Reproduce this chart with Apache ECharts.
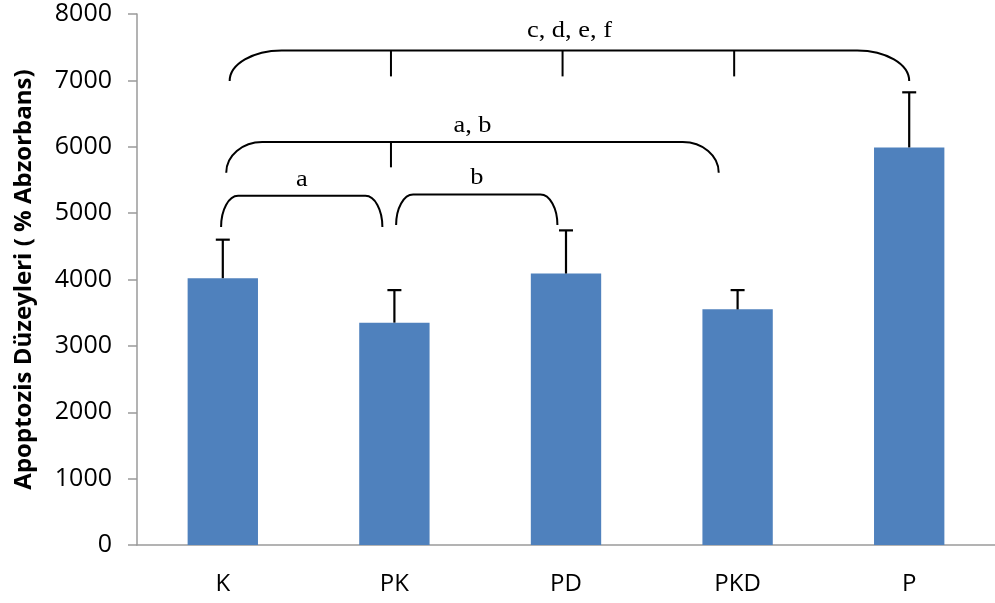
<!DOCTYPE html>
<html>
<head>
<meta charset="utf-8">
<script src="https://cdn.jsdelivr.net/npm/echarts@6/dist/echarts.min.js"></script>
<style>
  html, body { margin: 0; padding: 0; background: #fff; }
  #main { width: 995px; height: 603px; }
</style>
</head>
<body>
<div id="main"></div>
<script>
// veriler
var groups = ['K', 'PK', 'PD', 'PKD', 'P'];
var means = [4020, 3350, 4090, 3550, 5990];
var errTops = [4600, 3840, 4740, 3840, 6820];

// parantezler (x: kategori indeksi, y: deger)
var bracketLabels = ['c, d, e, f', 'a, b', 'a', 'b'];
var bracketStart = [0.04, 0.02, -0.01, 1.01];
var bracketEnd = [4.0, 2.89, 0.93, 1.95];
var bracketTop = [7450, 6070, 5260, 5280];
var bracketFoot = [6990, 5610, 4790, 4820];
var bracketTicks = [[0.98, 1.98, 2.98], [0.98], [], []];
var bracketTickFoot = [7060, 5690, 0, 0];
var bracketTextY = [7750, 6310, 5500, 5530];

// kose yaricaplari (px)
var cornerR = [52, 36, 17, 17];

var chart = echarts.init(document.getElementById('main'));

function xAt(api, pos, y) {
  var i = Math.round(pos);
  var band = api.size([1, 0])[0];
  return api.coord([i, y])[0] + (pos - i) * band;
}

var option = {
  animation: false,
  grid: { left: 137, right: 0, top: 14, bottom: 58 },
  xAxis: {
    type: 'category',
    data: groups,
    axisLine: { lineStyle: { color: '#9a9a9a', width: 1.5 } },
    axisTick: { length: 9, lineStyle: { color: '#9a9a9a', width: 1.5 } },
    axisLabel: { color: '#000', fontSize: 24, fontFamily: 'Open Sans', margin: 27 }
  },
  yAxis: {
    type: 'value',
    min: 0, max: 8000, interval: 1000,
    name: 'Apoptozis Düzeyleri ( % Abzorbans)',
    nameLocation: 'middle',
    nameGap: 101,
    nameTextStyle: { fontSize: 24, fontWeight: 'bold', color: '#000', fontFamily: 'Open Sans' },
    axisLine: { show: true, lineStyle: { color: '#9a9a9a', width: 1.5 } },
    axisTick: { show: true, length: 9, lineStyle: { color: '#9a9a9a', width: 1.5 } },
    axisLabel: {
      color: '#000', fontSize: 25, fontFamily: 'Open Sans', margin: 25,
      formatter: function (v) { return String(v); }
    },
    splitLine: { show: false }
  },
  series: [
    {
      type: 'bar',
      data: means,
      barWidth: '41%',
      itemStyle: { color: '#4F81BD' }
    },
    {
      // hata cubuklari
      type: 'custom',
      data: errTops.map(function (v, i) { return [i, v, means[i]]; }),
      renderItem: function (params, api) {
        var top = api.coord([api.value(0), api.value(1)]);
        var base = api.coord([api.value(0), api.value(2)]);
        return {
          type: 'group',
          children: [
            { type: 'line', shape: { x1: top[0], y1: base[1], x2: top[0], y2: top[1] }, style: { stroke: '#000', lineWidth: 2.2 } },
            { type: 'line', shape: { x1: top[0] - 7, y1: top[1], x2: top[0] + 7, y2: top[1] }, style: { stroke: '#000', lineWidth: 2.2 } }
          ]
        };
      },
      z: 5
    },
    {
      // anlamlilik parantezleri
      type: 'custom',
      data: bracketLabels.map(function (t, i) { return [i, bracketTop[i]]; }),
      renderItem: function (params, api) {
        var k = params.dataIndex;
        var x0 = xAt(api, bracketStart[k], 0);
        var x1 = xAt(api, bracketEnd[k], 0);
        var yT = api.coord([0, bracketTop[k]])[1];
        var yF = api.coord([0, bracketFoot[k]])[1];
        var r = cornerR[k];
        var h = yF - yT;
        var c = 0.552;
        var path = 'M' + x0 + ' ' + yF +
          ' C' + x0 + ' ' + (yF - c * h) + ' ' + (x0 + r - c * r) + ' ' + yT + ' ' + (x0 + r) + ' ' + yT +
          ' L' + (x1 - r) + ' ' + yT +
          ' C' + (x1 - r + c * r) + ' ' + yT + ' ' + x1 + ' ' + (yF - c * h) + ' ' + x1 + ' ' + yF;
        var kids = [
          { type: 'path', shape: { pathData: path }, style: { stroke: '#000', lineWidth: 2, fill: null } }
        ];
        bracketTicks[k].forEach(function (p) {
          var tx = xAt(api, p, 0);
          var yb = api.coord([0, bracketTickFoot[k]])[1];
          kids.push({ type: 'line', shape: { x1: tx, y1: yT, x2: tx, y2: yb }, style: { stroke: '#000', lineWidth: 2 } });
        });
        kids.push({
          type: 'text',
          x: (x0 + x1) / 2,
          y: api.coord([0, bracketTextY[k]])[1],
          scaleX: 1.1,
          style: {
            text: bracketLabels[k],
            x: 0,
            y: 0,
            align: 'center',
            verticalAlign: 'middle',
            font: '24px "Liberation Serif"',
            fill: '#000'
          }
        });
        return { type: 'group', children: kids };
      },
      z: 6
    }
  ]
};

chart.setOption(option);
</script>
</body>
</html>
